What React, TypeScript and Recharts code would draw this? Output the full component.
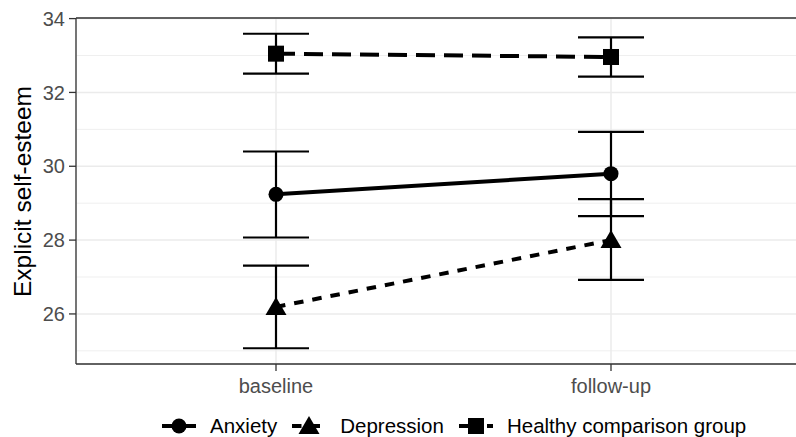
import React from 'react';
import { LineChart, Line, XAxis, YAxis, CartesianGrid, ErrorBar, ReferenceLine, Label } from 'recharts';

const categories = ['baseline', 'follow-up'];
const anxietyMean = [29.24, 29.8];
const anxietyLower = [28.07, 28.65];
const anxietyUpper = [30.4, 30.93];
const depressionMean = [26.19, 28.0];
const depressionLower = [25.07, 26.92];
const depressionUpper = [27.31, 29.11];
const healthyMean = [33.05, 32.96];
const healthyLower = [32.51, 32.43];
const healthyUpper = [33.59, 33.49];
const yTicks = [26, 28, 30, 32, 34];
const yMinorTicks = [25, 27, 29, 31, 33];
const seriesNames = ['Anxiety', 'Depression', 'Healthy comparison group'];

const data = categories.map((c, i) => ({
  time: c,
  anx: anxietyMean[i],
  anxErr: [anxietyMean[i] - anxietyLower[i], anxietyUpper[i] - anxietyMean[i]],
  dep: depressionMean[i],
  depErr: [depressionMean[i] - depressionLower[i], depressionUpper[i] - depressionMean[i]],
  hea: healthyMean[i],
  heaErr: [healthyMean[i] - healthyLower[i], healthyUpper[i] - healthyMean[i]],
}));

const allLower = [...anxietyLower, ...depressionLower, ...healthyLower];
const allUpper = [...anxietyUpper, ...depressionUpper, ...healthyUpper];
const lo = Math.min(...allLower);
const hi = Math.max(...allUpper);
const pad = (hi - lo) * 0.05;
const yMin = lo - pad;
const yMax = hi + pad;

const FONT = '"Liberation Sans", Arial, Helvetica, sans-serif';
const DASH_DEP = '9.5 9';
const DASH_HEA = '19 9';

const Circle = (props: any) => {
  const { cx, cy } = props;
  if (cx == null || cy == null) return null;
  return <circle cx={cx} cy={cy} r={7.5} fill="#000" />;
};
const Triangle = (props: any) => {
  const { cx, cy } = props;
  if (cx == null || cy == null) return null;
  return <polygon points={`${cx},${cy - 10} ${cx - 10.5},${cy + 8} ${cx + 10.5},${cy + 8}`} fill="#000" />;
};
const Square = (props: any) => {
  const { cx, cy } = props;
  if (cx == null || cy == null) return null;
  return <rect x={cx - 8} y={cy - 8} width={16} height={16} fill="#000" />;
};

const LegendIcon = ({ kind }: { kind: number }) => {
  const dash = kind === 0 ? undefined : kind === 1 ? DASH_DEP : DASH_HEA;
  return (
    <svg width={34} height={22} style={{ display: 'block' }}>
      <line x1={0} y1={11} x2={34} y2={11} stroke="#000" strokeWidth={4} strokeDasharray={dash} />
      {kind === 0 && <circle cx={17} cy={11} r={7.5} fill="#000" />}
      {kind === 1 && <polygon points="17,1 6.5,19 27.5,19" fill="#000" />}
      {kind === 2 && <rect x={9} y={3} width={16} height={16} fill="#000" />}
    </svg>
  );
};

const YTitle = (props: any) => {
  const x = 31;
  const y = 191.5;
  return (
    <text x={x} y={y} transform={`rotate(-90, ${x}, ${y})`} textAnchor="middle" fontSize={24.5} fill="#000" fontFamily={FONT}>
      Explicit self-esteem
    </text>
  );
};

export default function App() {
  return (
    <div style={{ position: 'absolute', left: 0, top: 0, width: 796, height: 437, overflow: 'hidden', background: '#fff' }}>
      <LineChart width={812} height={437} data={data} margin={{ top: 18, right: 1, bottom: 0, left: 0 }}>
        <CartesianGrid stroke="#ebebeb" strokeWidth={1.5} />
        {yMinorTicks.map((t) => (
          <ReferenceLine key={t} y={t} stroke="#ebebeb" strokeWidth={0.8} />
        ))}
        <ReferenceLine y={yMax} stroke="#333333" strokeWidth={1.3} />
        <XAxis
          dataKey="time"
          scale="point"
          padding={{ left: 200, right: 200 }}
          height={73}
          axisLine={{ stroke: '#333333', strokeWidth: 1.3 }}
          tickLine={{ stroke: '#333333', strokeWidth: 1.3 }}
          tickSize={7}
          tickMargin={8}
          tick={{ fill: '#4d4d4d', fontSize: 20, fontFamily: FONT }}
        />
        <YAxis
          type="number"
          domain={[yMin, yMax]}
          ticks={yTicks}
          width={76}
          allowDataOverflow
          axisLine={{ stroke: '#333333', strokeWidth: 1.3 }}
          tickLine={{ stroke: '#333333', strokeWidth: 1.3 }}
          tickSize={7}
          tickMargin={4}
          tick={{ fill: '#4d4d4d', fontSize: 20, fontFamily: FONT }}
        >
          <Label content={<YTitle />} />
        </YAxis>
        <Line dataKey="hea" stroke="#000" strokeWidth={4} strokeDasharray={DASH_HEA} dot={<Square />} isAnimationActive={false}>
          <ErrorBar dataKey="heaErr" direction="y" width={33} stroke="#000" strokeWidth={2.2} />
        </Line>
        <Line dataKey="anx" stroke="#000" strokeWidth={4} dot={<Circle />} isAnimationActive={false}>
          <ErrorBar dataKey="anxErr" direction="y" width={33} stroke="#000" strokeWidth={2.2} />
        </Line>
        <Line dataKey="dep" stroke="#000" strokeWidth={4} strokeDasharray={DASH_DEP} dot={<Triangle />} isAnimationActive={false}>
          <ErrorBar dataKey="depErr" direction="y" width={33} stroke="#000" strokeWidth={2.2} />
        </Line>
      </LineChart>
      <div style={{ position: 'absolute', left: 162, top: 414, display: 'flex', alignItems: 'center', fontFamily: FONT, fontSize: 20.5, color: '#000', whiteSpace: 'nowrap' }}>
        {seriesNames.map((n, i) => (
          <div key={n} style={{ display: 'flex', alignItems: 'center', marginRight: 15 }}>
            <LegendIcon kind={i} />
            <span style={{ marginLeft: 14 }}>{n}</span>
          </div>
        ))}
      </div>
    </div>
  );
}
